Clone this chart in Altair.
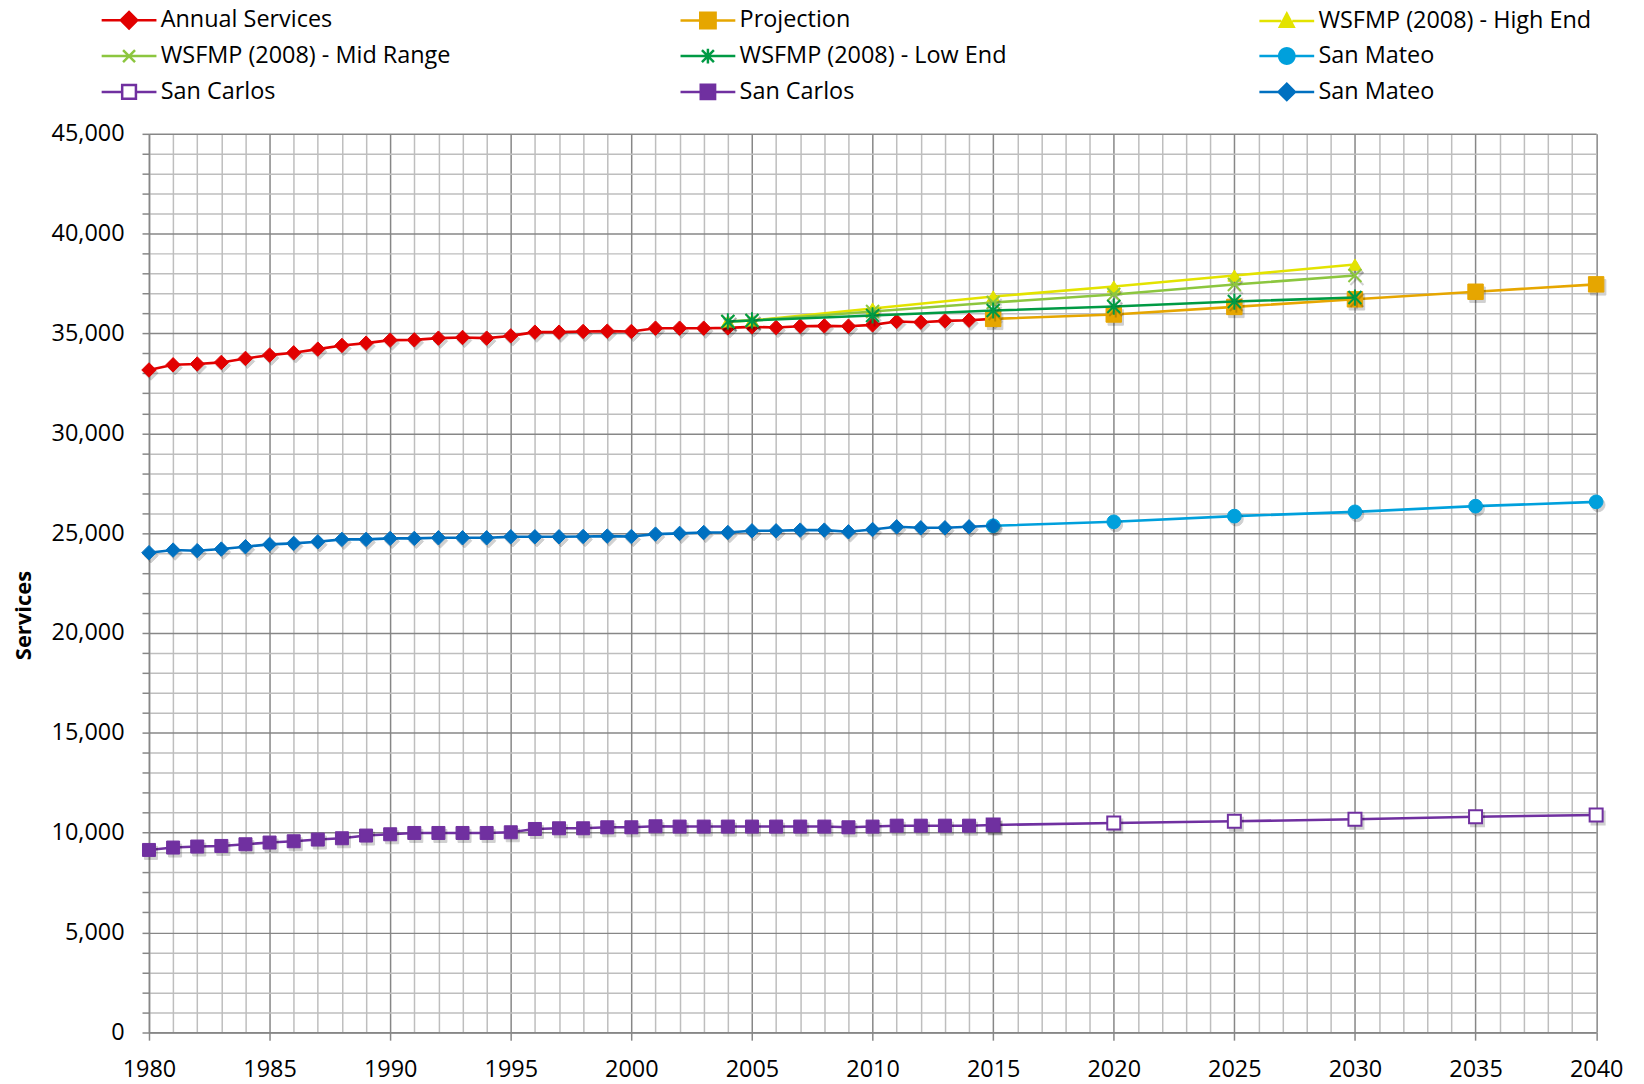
import math
import altair as alt
import pandas as pd

# ---------------- data ----------------
years_hist = list(range(1980, 2016))
annual_services = [33170, 33430, 33470, 33550, 33750, 33915, 34030, 34215, 34400, 34515,
                   34665, 34680, 34765, 34800, 34765, 34880, 35065, 35065, 35100, 35115,
                   35100, 35265, 35265, 35265, 35280, 35330, 35300, 35365, 35380, 35365,
                   35430, 35600, 35565, 35630, 35665, 35730]
san_mateo_hist = [24020, 24150, 24120, 24200, 24320, 24435, 24485, 24565, 24685, 24685,
                  24735, 24735, 24765, 24765, 24765, 24815, 24815, 24815, 24830, 24850,
                  24830, 24950, 24985, 25030, 25030, 25115, 25115, 25150, 25150, 25065,
                  25180, 25315, 25265, 25265, 25315, 25365]
san_carlos_hist = [9130, 9250, 9300, 9330, 9415, 9500, 9565, 9650, 9715, 9850,
                   9915, 9980, 9980, 9980, 9980, 10015, 10180, 10215, 10215, 10265,
                   10265, 10315, 10300, 10300, 10300, 10300, 10300, 10300, 10300, 10265,
                   10300, 10345, 10345, 10345, 10345, 10380]

years_proj = [2015, 2020, 2025, 2030, 2035, 2040]
projection = [35730, 35950, 36330, 36710, 37090, 37460]
san_mateo_proj = [25365, 25565, 25850, 26065, 26350, 26565]
san_carlos_proj = [10380, 10480, 10565, 10665, 10795, 10880]

years_wsfmp = [2004, 2005, 2010, 2015, 2020, 2025, 2030]
wsfmp_high = [35600, 35650, 36250, 36850, 37350, 37900, 38450]
wsfmp_mid = [35600, 35650, 36100, 36550, 36950, 37450, 37900]
wsfmp_low = [35600, 35650, 35900, 36150, 36350, 36600, 36800]

x_ticks = list(range(1980, 2041))
y_ticks = list(range(0, 45001, 1000))

# ---------------- styling ----------------
RED = "#E10000"
ORANGE = "#E6A600"
YELLOW = "#E3E300"
LGREEN = "#8CC63F"
DGREEN = "#009A44"
LBLUE = "#00A0DC"
DBLUE = "#0070C0"
PURPLE = "#7030A0"
MAJOR = "#878787"
MINOR = "#BEBEBE"
FONT = "Open Sans"
FS = 23.5

X_PATH = "M-1,-1L1,1M-1,1L1,-1"
STAR_PATH = "M-1,-1L1,1M-1,1L1,-1M0,-1.25L0,1.25"

# legend symbol geometry: unit = sqrt(LEG_SIZE)/2 px; line is LINE_HALF units each side
LEG_SIZE = 400
U = math.sqrt(LEG_SIZE) / 2.0          # 10 px per unit
LINE_HALF = 27.5 / U                    # 55 px long line


def poly(r, n=20):
    pts = ["%.3f,%.3f" % (r * math.cos(2 * math.pi * i / n), r * math.sin(2 * math.pi * i / n))
           for i in range(n)]
    return "M" + "L".join(pts) + "Z"


def legend_path(marker, half, through=False):
    L = LINE_HALF
    if through:
        line = "M%.3f,0L%.3f,0" % (-L, L)
    else:
        line = "M%.3f,0L%.3f,0M%.3f,0L%.3f,0" % (-L, -half, half, L)
    return line + marker


def px(v):
    return v / U


dh = px(8.2)
diamond_m = "M%.3f,0L0,%.3fL%.3f,0L0,%.3fZ" % (-dh, -dh, dh, dh)


def sq(s):
    return "M%.3f,%.3fL%.3f,%.3fL%.3f,%.3fL%.3f,%.3fZ" % (-s, -s, s, -s, s, s, -s, s)


tri_m = "M0,%.3fL%.3f,%.3fL%.3f,%.3fZ" % (-px(7.4), px(6.9), px(5.8), -px(6.9), px(5.8))
xh = px(6.0)
x_m = "M%.3f,%.3fL%.3f,%.3fM%.3f,%.3fL%.3f,%.3f" % (-xh, -xh, xh, xh, -xh, xh, xh, -xh)
star_m = x_m + "M0,%.3fL0,%.3f" % (-px(7.4), px(7.4))

# key, years, values, colour, main shape, size, fill, strokeWidth, legend path
series = [
    ("Annual Services|a", years_hist, annual_services, RED, "diamond", 210, RED, 1,
     legend_path(diamond_m, dh)),
    ("Projection|b", years_proj, projection, ORANGE, "square", 240, ORANGE, 1,
     legend_path(sq(px(7.7)), px(7.7))),
    ("WSFMP (2008) - High End|c", years_wsfmp, wsfmp_high, YELLOW, "triangle-up", 170, YELLOW, 1,
     legend_path(tri_m, px(5.5))),
    ("WSFMP (2008) - Mid Range|d", years_wsfmp, wsfmp_mid, LGREEN, X_PATH, 170, LGREEN, 2,
     legend_path(x_m, xh, through=True)),
    ("WSFMP (2008) - Low End|e", years_wsfmp, wsfmp_low, DGREEN, STAR_PATH, 170, DGREEN, 2,
     legend_path(star_m, xh, through=True)),
    ("San Mateo|f", years_proj, san_mateo_proj, LBLUE, "circle", 190, LBLUE, 1,
     legend_path(poly(px(7.7)), px(7.7))),
    ("San Carlos|g", years_proj, san_carlos_proj, PURPLE, "square", 170, "white", 2,
     legend_path(sq(px(6.9)), px(6.9))),
    ("San Carlos|h", years_hist, san_carlos_hist, PURPLE, "square", 170, PURPLE, 1,
     legend_path(sq(px(7.2)), px(7.2))),
    ("San Mateo|i", years_hist, san_mateo_hist, DBLUE, "diamond", 210, DBLUE, 1,
     legend_path(diamond_m, dh)),
]

keys = [s[0] for s in series]
colors = [s[3] for s in series]
fills = [s[6] for s in series]
legend_shapes = [s[8] for s in series]

cond5 = "datum.value % 5 === 0"
cond5000 = "datum.value % 5000 === 0"

x_axis = alt.Axis(
    values=x_ticks, format="d", labelExpr="%s ? datum.label : ''" % cond5,
    grid=True, gridColor={"condition": {"test": cond5, "value": MAJOR}, "value": MINOR},
    gridWidth=1.5,
    tickSize=8, tickWidth=1.5,
    tickColor={"condition": {"test": cond5, "value": MAJOR}, "value": "transparent"},
    domainColor=MAJOR, domainWidth=1.5,
    labelFont=FONT, labelFontSize=FS, labelColor="black", labelPadding=17,
    labelOverlap=False, labelFlush=False, title=None,
)
y_axis = alt.Axis(
    values=y_ticks, format=",d", labelExpr="%s ? datum.label : ''" % cond5000,
    grid=True, gridColor={"condition": {"test": cond5000, "value": MAJOR}, "value": MINOR},
    gridWidth=1.5,
    tickSize=7, tickWidth=1.5, tickColor=MAJOR,
    domainColor=MAJOR, domainWidth=1.5,
    labelFont=FONT, labelFontSize=FS, labelColor="black", labelPadding=18,
    labelOverlap=False,
    title="Services", titleFont=FONT, titleFontSize=22, titleFontWeight="bold",
    titleColor="black", titleX=-126, titleY=483, titleBaseline="middle",
)

x_enc = alt.X("year:Q", scale=alt.Scale(domain=[1980, 2040], nice=False, zero=False), axis=x_axis)
y_enc = alt.Y("value:Q", scale=alt.Scale(domain=[0, 45000], nice=False), axis=y_axis)

layers = []
for key, yrs, vals, col, shape, size, fill, sw, _ in series:
    df = pd.DataFrame({"year": yrs, "value": vals})
    base = alt.Chart(df).encode(x=x_enc, y=y_enc)
    layers.append(base.mark_line(color=col, strokeWidth=2.6))
    # soft marker shadow, as in the spreadsheet original
    layers.append(base.mark_point(shape=shape, size=size, filled=True, fill="#000000",
                                  stroke="#000000", strokeWidth=sw, opacity=0.18,
                                  xOffset=2, yOffset=3))
    layers.append(base.mark_point(shape=shape, size=size, filled=True, fill=fill,
                                  stroke=col, strokeWidth=sw, opacity=1))

# invisible layer that only provides the legend
leg_df = pd.DataFrame({"series": keys, "year": [s[1][0] for s in series],
                       "value": [s[2][0] for s in series]})


def mk_legend():
    return alt.Legend(
        orient="none", legendX=-48, legendY=-125.8, columns=3, direction="horizontal",
        gridAlign="all", columnPadding=225, rowPadding=9, padding=0, title=None,
        labelExpr="split(datum.label, '|')[0]",
        labelFont=FONT, labelFontSize=FS, labelColor="black", labelLimit=600,
        labelOffset=20, symbolOffset=16.25,
        symbolSize=LEG_SIZE, symbolStrokeWidth=2.5, symbolOpacity=1,
    )


leg_layer = alt.Chart(leg_df).mark_point(size=LEG_SIZE, opacity=0, strokeWidth=2.5).encode(
    x=x_enc, y=y_enc,
    shape=alt.Shape("series:N", scale=alt.Scale(domain=keys, range=legend_shapes), legend=mk_legend()),
    fill=alt.Fill("series:N", scale=alt.Scale(domain=keys, range=fills), legend=mk_legend()),
    stroke=alt.Stroke("series:N", scale=alt.Scale(domain=keys, range=colors), legend=mk_legend()),
)
layers.append(leg_layer)

chart = alt.layer(*layers).properties(
    width=1452.5, height=901.7,
    autosize=alt.AutoSizeParams(type="none"),
    padding={"left": 141.5, "top": 124.3, "right": 40, "bottom": 50},
    background="white",
).configure_view(strokeWidth=0)

chart.save("out.html", embed_options={"renderer": "svg", "actions": False})
